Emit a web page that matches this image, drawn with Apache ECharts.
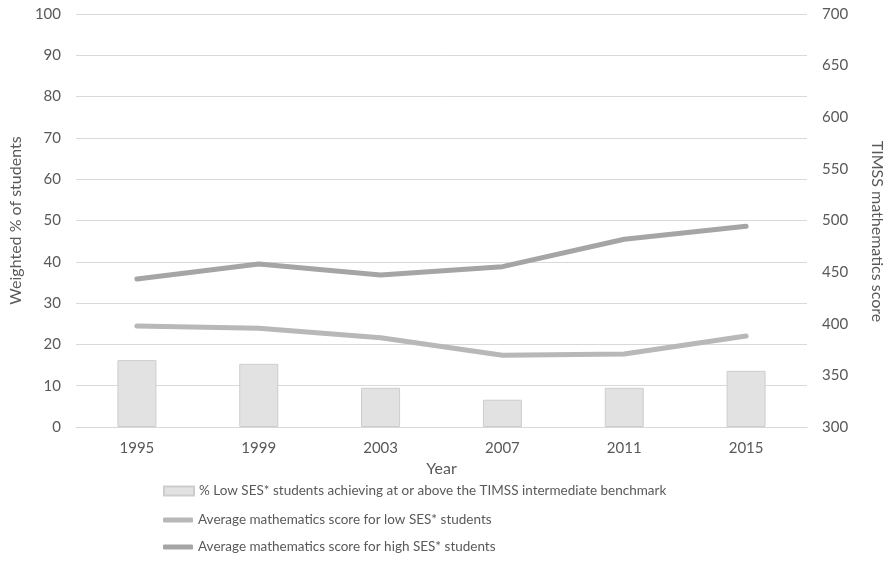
<!DOCTYPE html>
<html><head><meta charset="utf-8">
<script src="https://cdn.jsdelivr.net/npm/echarts@6/dist/echarts.min.js"></script>
<style>html,body{margin:0;padding:0;background:#fff}#c{width:893px;height:561px}</style>
</head><body><div id="c"></div>
<script>
var years = ['1995','1999','2003','2007','2011','2015'];
var pctLowSES = [16.2, 15.3, 9.5, 6.6, 9.5, 13.6];
var scoreLowSES = [397.8, 395.6, 386.5, 369.4, 370.7, 388.1];
var scoreHighSES = [443.3, 457.9, 447.2, 455.3, 481.8, 494.4];
var leftTicks = {min: 0, max: 100, interval: 10};
var rightTicks = {min: 300, max: 700, interval: 50};
var names = [
  '% Low SES* students achieving at or above the TIMSS intermediate benchmark',
  'Average mathematics score for low SES* students',
  'Average mathematics score for high SES* students'
];
var FONT = 'Lato, "Open Sans", sans-serif';
var txt = {color: '#595959', fontFamily: FONT, fontSize: 15};
var chart = echarts.init(document.getElementById('c'), null, {renderer: 'canvas'});
function leg(i, top, opts) {
  return Object.assign({
    data: [names[i]], orient: 'vertical', left: 163, top: top,
    itemWidth: 30, itemGap: 0, selectedMode: false,
    textStyle: Object.assign({}, txt, {fontSize: 13.5}), padding: 0
  }, opts);
}
chart.setOption({
  animation: false,
  grid: {left: 75, right: 81, top: 14, bottom: 134, containLabel: false},
  legend: [
    leg(0, 484, {itemHeight: 9, icon: 'rect'}),
    leg(1, 513, {itemHeight: 5, icon: 'roundRect'}),
    leg(2, 540, {itemHeight: 5, icon: 'roundRect'})
  ],
  xAxis: {
    type: 'category', data: years,
    name: 'Year', nameLocation: 'middle', nameGap: 30,
    nameTextStyle: Object.assign({}, txt, {fontSize: 16}),
    axisLine: {show: true, lineStyle: {color: '#d9d9d9', width: 1}},
    axisTick: {show: false},
    axisLabel: Object.assign({}, txt, {margin: 14})
  },
  yAxis: [{
    type: 'value', position: 'left', min: leftTicks.min, max: leftTicks.max, interval: leftTicks.interval,
    name: 'Weighted % of students', nameLocation: 'middle', nameGap: 50,
    nameTextStyle: Object.assign({}, txt, {fontSize: 16}),
    axisLine: {show: false}, axisTick: {show: false},
    axisLabel: Object.assign({}, txt, {margin: 15}),
    splitLine: {lineStyle: {color: '#d9d9d9', width: 1}}
  }, {
    type: 'value', position: 'right', min: rightTicks.min, max: rightTicks.max, interval: rightTicks.interval,
    name: 'TIMSS mathematics score', nameLocation: 'middle', nameGap: 62, nameRotate: -90,
    nameTextStyle: Object.assign({}, txt, {fontSize: 16, padding: [0, 0, 0, 22]}),
    axisLine: {show: false}, axisTick: {show: false},
    axisLabel: Object.assign({}, txt, {margin: 15}),
    splitLine: {show: false}
  }],
  series: [{
    name: names[0], type: 'bar', yAxisIndex: 0, data: pctLowSES, barWidth: '32%',
    itemStyle: {color: '#e2e2e2', borderColor: '#cdcdcd', borderWidth: 1}
  }, {
    name: names[1], type: 'line', yAxisIndex: 1, data: scoreLowSES,
    showSymbol: false, symbol: 'none',
    lineStyle: {color: '#b8b8b8', width: 5, cap: 'round', join: 'round'},
    itemStyle: {color: '#b8b8b8'}
  }, {
    name: names[2], type: 'line', yAxisIndex: 1, data: scoreHighSES,
    showSymbol: false, symbol: 'none',
    lineStyle: {color: '#a5a5a5', width: 5, cap: 'round', join: 'round'},
    itemStyle: {color: '#a5a5a5'}
  }]
});
</script></body></html>
